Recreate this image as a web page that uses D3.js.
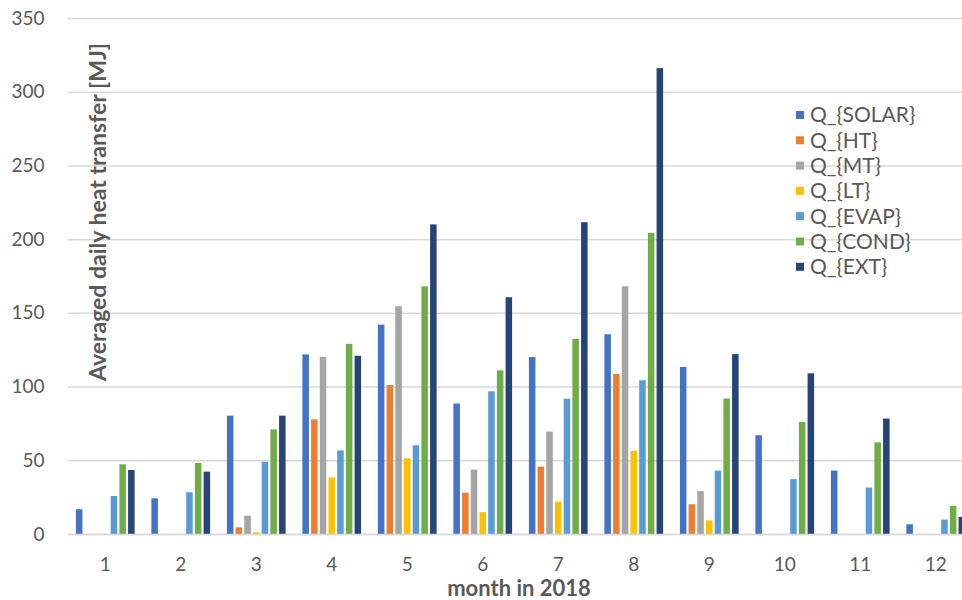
<!DOCTYPE html>
<html>
<head>
<meta charset="utf-8">
<script src="https://cdn.jsdelivr.net/npm/d3@7"></script>
<style>
  html, body { margin: 0; padding: 0; background: #fff; overflow: hidden; }
  svg { display: block; }
  text { font-family: Lato, "Open Sans", sans-serif; fill: #595959; }
</style>
</head>
<body>
<svg id="chart" width="962" height="600"></svg>
<script>
const months = ["1","2","3","4","5","6","7","8","9","10","11","12"];
const seriesNames = ["Q_{SOLAR}","Q_{HT}","Q_{MT}","Q_{LT}","Q_{EVAP}","Q_{COND}","Q_{EXT}"];
const seriesColors = ["#4472C4","#ED7D31","#A5A5A5","#FFC000","#5B9BD5","#70AD47","#264478"];
const qSolar = [16.8, 24.2, 80.3, 121.8, 142, 88.5, 120, 135.5, 113.3, 67, 43, 6.6];
const qHT    = [0, 0, 4.5, 77.8, 101, 28, 45.7, 108.5, 20.2, 0, 0, 0];
const qMT    = [0, 0, 12.4, 120.2, 154.5, 43.7, 69.5, 168, 29.1, 0, 0, 0];
const qLT    = [0, 0, 1.2, 38.3, 51.4, 14.8, 22, 56.3, 9.2, 0, 0, 0];
const qEVAP  = [25.8, 28.3, 49, 56.7, 60.2, 96.8, 91.8, 104.3, 43, 37.2, 31.5, 9.8];
const qCOND  = [47.3, 48.2, 71, 129, 168, 111, 132.3, 204.3, 91.9, 76, 62.2, 19.1];
const qEXT   = [43.4, 42.3, 80.3, 120.9, 210, 160.6, 211.5, 316, 122, 109, 78.3, 11.6];
const yTicks = [0, 50, 100, 150, 200, 250, 300, 350];

const seriesValues = [qSolar, qHT, qMT, qLT, qEVAP, qCOND, qEXT];

const svg = d3.select("#chart");
const plot = { left: 67.5, right: 973.5, top: 18, bottom: 534 };

const x0 = d3.scaleBand().domain(months).range([plot.left, plot.right]).padding(0);
const x1 = d3.scaleBand().domain(seriesNames).range([0, x0.bandwidth()])
  .paddingInner(0.25).paddingOuter(0.965);
const y = d3.scaleLinear().domain([0, 350]).range([plot.bottom, plot.top]);

// gridlines
const yAxis = d3.axisLeft(y).tickValues(yTicks).tickSize(-(plot.right - plot.left)).tickPadding(23);
const gy = svg.append("g").attr("transform", `translate(${plot.left},0)`).call(yAxis);
gy.select(".domain").remove();
gy.selectAll(".tick line").attr("stroke", "#d9d9d9").attr("stroke-width", 1.5);
gy.selectAll(".tick text").attr("font-size", 19).attr("fill", "#595959")
  .style("font-family", "Lato, sans-serif");

// bars
const groups = svg.append("g").selectAll("g").data(months).join("g")
  .attr("transform", d => `translate(${x0(d)},0)`);
groups.selectAll("rect")
  .data((m, i) => seriesNames.map((s, k) => ({ s, k, v: seriesValues[k][i] })))
  .join("rect")
  .attr("x", d => x1(d.s))
  .attr("width", x1.bandwidth())
  .attr("y", d => y(d.v))
  .attr("height", d => y(0) - y(d.v))
  .attr("fill", d => seriesColors[d.k]);

// x axis
const xAxis = d3.axisBottom(x0).tickSize(0).tickPadding(24);
const gx = svg.append("g").attr("transform", `translate(0,${plot.bottom})`).call(xAxis);
gx.select(".domain").attr("stroke", "#d9d9d9").attr("stroke-width", 1.5);
gx.selectAll(".tick text").attr("font-size", 19).attr("fill", "#595959")
  .style("font-family", "Lato, sans-serif");

// axis titles
svg.append("text")
  .attr("x", 519).attr("y", 596)
  .attr("text-anchor", "middle")
  .attr("font-size", 22).attr("font-weight", "bold")
  .text("month in 2018");

svg.append("text")
  .attr("transform", "translate(106,212) rotate(-90)")
  .attr("text-anchor", "middle")
  .attr("font-size", 23).attr("font-weight", "bold")
  .text("Averaged daily heat transfer [MJ]");

// legend
const legend = svg.append("g").attr("transform", "translate(796,115)");
const li = legend.selectAll("g").data(seriesNames).join("g")
  .attr("transform", (d, i) => `translate(0,${i * 25.3})`);
li.append("rect").attr("x", 0).attr("y", -4).attr("width", 8).attr("height", 8)
  .attr("fill", (d, i) => seriesColors[i]);
li.append("text").attr("x", 14).attr("y", 0).attr("dy", "0.35em")
  .attr("font-size", 21).text(d => d);
</script>
</body>
</html>
